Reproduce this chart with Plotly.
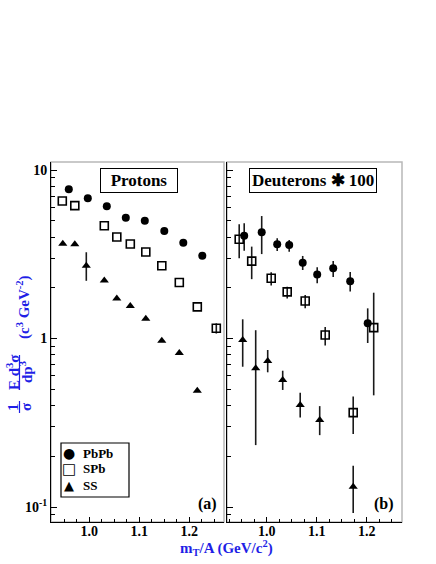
import plotly.graph_objects as go

# ---- data (x = m_T/A in GeV/c^2) ----
# panel (a): protons
p_pbpb_x = [0.959, 0.997, 1.035, 1.073, 1.111, 1.150, 1.188, 1.226]
p_pbpb_y = [7.7, 6.8, 6.1, 5.2, 5.0, 4.35, 3.7, 3.1]

p_spb_x = [0.946, 0.971, 1.030, 1.055, 1.082, 1.113, 1.145, 1.180, 1.216, 1.254]
p_spb_y = [6.55, 6.15, 4.67, 4.0, 3.64, 3.26, 2.70, 2.15, 1.54, 1.15]
p_spb_up = [0, 0, 0, 0, 0, 0, 0, 0, 0, 0.08]
p_spb_dn = [0, 0, 0, 0, 0, 0, 0, 0, 0, 0.08]

p_ss_x = [0.947, 0.971, 0.994, 1.030, 1.055, 1.082, 1.113, 1.145, 1.180, 1.216]
p_ss_y = [3.65, 3.62, 2.70, 2.21, 1.73, 1.56, 1.31, 0.97, 0.82, 0.49]
p_ss_up = [0, 0, 0.55, 0, 0, 0, 0, 0, 0, 0]
p_ss_dn = [0, 0, 0.50, 0, 0, 0, 0, 0, 0, 0]

# panel (b): deuterons * 100
d_pbpb_x = [0.955, 0.990, 1.021, 1.045, 1.072, 1.101, 1.133, 1.167, 1.202]
d_pbpb_y = [4.07, 4.27, 3.62, 3.59, 2.82, 2.40, 2.61, 2.19, 1.23]
d_pbpb_up = [0.76, 1.06, 0.31, 0.25, 0.27, 0.25, 0.27, 0.29, 0.28]
d_pbpb_dn = [0.75, 1.10, 0.31, 0.32, 0.27, 0.27, 0.29, 0.29, 0.29]

d_spb_x = [0.945, 0.970, 1.009, 1.041, 1.077, 1.117, 1.173, 1.214]
d_spb_y = [3.88, 2.88, 2.28, 1.89, 1.67, 1.05, 0.363, 1.16]
d_spb_up = [0.88, 0.63, 0.19, 0.14, 0.14, 0.12, 0.089, 0.71]
d_spb_dn = [0.89, 0.63, 0.22, 0.16, 0.16, 0.14, 0.092, 0.70]

d_ss_x = [0.952, 0.978, 1.002, 1.032, 1.067, 1.106, 1.173]
d_ss_y = [0.98, 0.665, 0.735, 0.567, 0.403, 0.328, 0.132]
d_ss_up = [0.32, 0.455, 0.12, 0.077, 0.074, 0.069, 0.044]
d_ss_dn = [0.30, 0.432, 0.105, 0.072, 0.063, 0.061, 0.040]

systems = ["PbPb", "SPb", "SS"]
y_tickvals = [0.1, 1, 10]
y_ticktext = ["10<sup>-1</sup>", "1", "10"]
y_minor = [0.09] + [k / 10 for k in range(2, 10)] + list(range(2, 10))
x_tickvals = [1.0, 1.1, 1.2]
x_ticktext = ["1.0", "1.1", "1.2"]

W, H = 436, 564
SERIF = "Liberation Serif"
BLUE = "#1f1fe6"


def px(x):
    return x / W


def py(y):
    return 1 - y / H


def err(up, dn):
    return dict(type="data", symmetric=False, array=up, arrayminus=dn,
                color="#1a1a1a", thickness=1.6, width=0)


circle = dict(symbol="circle", size=8, color="black")
square = dict(symbol="square-open", size=8, color="black", line=dict(width=1.6))
triangle = dict(symbol="triangle-up", size=8, color="black")

fig = go.Figure()
fig.add_trace(go.Scatter(x=p_pbpb_x, y=p_pbpb_y, mode="markers", marker=circle,
                         name=systems[0], xaxis="x", yaxis="y"))
fig.add_trace(go.Scatter(x=p_spb_x, y=p_spb_y, mode="markers", marker=square,
                         error_y=err(p_spb_up, p_spb_dn), name=systems[1], xaxis="x", yaxis="y"))
fig.add_trace(go.Scatter(x=p_ss_x, y=p_ss_y, mode="markers", marker=triangle,
                         error_y=err(p_ss_up, p_ss_dn), name=systems[2], xaxis="x", yaxis="y"))

fig.add_trace(go.Scatter(x=d_pbpb_x, y=d_pbpb_y, mode="markers", marker=circle,
                         error_y=err(d_pbpb_up, d_pbpb_dn), name=systems[0], xaxis="x2", yaxis="y2"))
fig.add_trace(go.Scatter(x=d_spb_x, y=d_spb_y, mode="markers", marker=square,
                         error_y=err(d_spb_up, d_spb_dn), name=systems[1], xaxis="x2", yaxis="y2"))
fig.add_trace(go.Scatter(x=d_ss_x, y=d_ss_y, mode="markers", marker=triangle,
                         error_y=err(d_ss_up, d_ss_dn), name=systems[2], xaxis="x2", yaxis="y2"))

tickfont = dict(family=SERIF, size=14, color="black", weight="bold")
ydom = [py(522), py(162)]

xcommon = dict(tickvals=x_tickvals, ticktext=x_ticktext, ticks="inside", ticklen=5,
               tickwidth=1, tickcolor="black", showline=True, linecolor="black", linewidth=1,
               showgrid=False, zeroline=False, tickfont=tickfont, ticklabelstandoff=-4,
               minor=dict(dtick=0.025, tick0=1.0, ticks="inside", ticklen=3,
                          tickcolor="black", showgrid=False))
ycommon = dict(type="log", range=[-1.089, 1.0475], tickvals=y_tickvals, ticktext=y_ticktext,
               ticks="inside", ticklen=6, tickwidth=1, tickcolor="black", showline=True,
               linecolor="black", linewidth=1, showgrid=False, zeroline=False, tickfont=tickfont,
               minor=dict(tickvals=y_minor, ticks="inside", ticklen=4, tickcolor="black",
                          showgrid=False), domain=ydom)

fig.update_layout(
    width=W, height=H, margin=dict(l=0, r=0, t=0, b=0),
    paper_bgcolor="white", plot_bgcolor="white", showlegend=False,
    font=dict(family=SERIF, color="black"),
    xaxis=dict(domain=[px(51), px(224)], range=[0.9234, 1.2694], anchor="y", **xcommon),
    yaxis=dict(anchor="x", **ycommon),
    xaxis2=dict(domain=[px(227), px(402)], range=[0.9206, 1.2706], anchor="y2", **xcommon),
    yaxis2=dict(anchor="x2", showticklabels=False, **ycommon),
)

# light grey frames around each pad
for xr, yr in (("x domain", "y domain"), ("x2 domain", "y2 domain")):
    fig.add_shape(type="rect", xref=xr, yref=yr, x0=0, x1=1, y0=0, y1=1,
                  line=dict(color="#b8b8b8", width=1.5), layer="below")


def note(x, y, text, font, xanchor="center", **kw):
    fig.add_annotation(x=px(x), y=py(y), xref="paper", yref="paper", text=text,
                       showarrow=False, font=font, xanchor=xanchor, yanchor="middle", **kw)


boxfont = dict(family=SERIF, size=17, color="black", weight="bold")
note(139, 180, "Protons", boxfont, bordercolor="black", borderwidth=1, borderpad=2,
     bgcolor="white", width=72)
note(313, 180, "Deuterons ✱ 100", boxfont, bordercolor="black", borderwidth=1, borderpad=2,
     bgcolor="white")

labfont = dict(family=SERIF, size=16, color="black", weight="bold")
note(207, 504, "(a)", labfont)
note(384, 504, "(b)", labfont)

# legend box (ROOT style) in panel (a)
fig.add_shape(type="rect", xref="paper", yref="paper", x0=px(61), x1=px(129),
              y0=py(497), y1=py(443), line=dict(color="black", width=1.2),
              fillcolor="white")
legfont = dict(family=SERIF, size=13, color="black", weight="bold")
for (yy, glyph, gsize), name in zip(((453, "●", 14), (468.5, "□", 15), (485, "▲", 13)), systems):
    note(68.5, yy, glyph, dict(family="DejaVu Sans", size=gsize, color="black"))
    note(81, yy, name, legfont, xanchor="left")

# x-axis title
note(226, 548, "m<sub>T</sub>/A (GeV/c<sup>2</sup>)",
     dict(family=SERIF, size=15, color=BLUE, weight="bold"))

# y-axis title built from rotated pieces
yfont = dict(family=SERIF, size=15, color=BLUE, weight="bold")
ypieces = [
    (13, 407, "1"), (26, 407, "σ"),
    (13, 372, "E d<sup>3</sup>σ"), (26, 372, "dp<sup>3</sup>"),
    (23, 307, "(c<sup>3</sup> GeV<sup>-2</sup>)"),
]
for x, y, t in ypieces:
    note(x, y, t, yfont, textangle=-90)
for y0, y1 in ((401, 413), (355, 390)):
    fig.add_shape(type="line", xref="paper", yref="paper", x0=px(19.5), x1=px(19.5),
                  y0=py(y0), y1=py(y1), line=dict(color=BLUE, width=1.2))

fig.write_html("out.html", config={"displayModeBar": False},
               post_script="document.body.style.margin='0';")
